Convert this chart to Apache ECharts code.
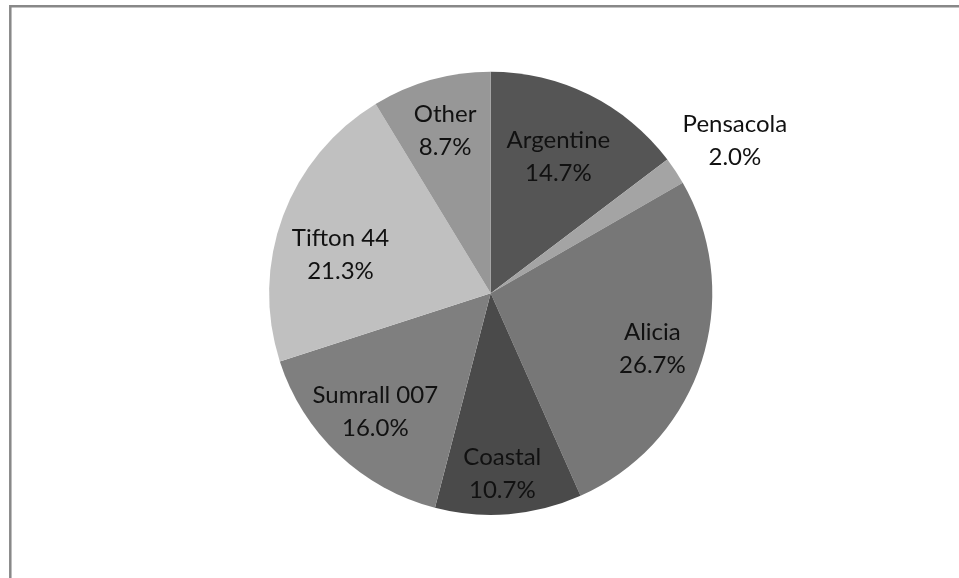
<!DOCTYPE html>
<html>
<head>
<meta charset="utf-8">
<title>Turfgrass variety share</title>
<script src="https://cdn.jsdelivr.net/npm/echarts@6/dist/echarts.min.js"></script>
<style>
  html, body { margin: 0; padding: 0; background: #ffffff; }
  #chart { width: 959px; height: 578px; }
</style>
</head>
<body>
<div id="chart"></div>
<script>
// Variety names and their share of the total (percent)
const categories = ['Argentine', 'Pensacola', 'Alicia', 'Coastal', 'Sumrall 007', 'Tifton 44', 'Other'];
const shares = [14.7, 2.0, 26.7, 10.7, 16.0, 21.3, 8.7];

// Grey fill of each slice, in category order
const sliceColors = ['#555555', '#a4a4a4', '#777777', '#4a4a4a', '#7f7f7f', '#c0c0c0', '#979797'];

// Label placement per slice: distance from centre as a fraction of the radius,
// plus a small angular nudge (degrees) away from the slice's mid-angle
const labelRadius = [0.686, 1.30, 0.772, 0.817, 0.745, 0.70, 0.763];
const labelNudge  = [0, 1.5, 1, 1, 1, -6, 0];

const CX = 490.7, CY = 293.3, R = 221.6;

const total = shares.reduce((a, b) => a + b, 0);
const midAngles = [];
let acc = 0;
shares.forEach(v => {
  midAngles.push((acc + v / 2) / total * 360);
  acc += v;
});

const chart = echarts.init(document.getElementById('chart'), null, { renderer: 'canvas' });

chart.setOption({
  backgroundColor: '#ffffff',
  animation: false,
  graphic: [{
    type: 'rect',
    silent: true,
    shape: { x: 10.3, y: 6.2, width: 2000, height: 2000 },
    style: { fill: 'none', stroke: '#888888', lineWidth: 2.5 }
  }],
  series: [{
    type: 'pie',
    center: [CX, CY],
    radius: [0, R],
    startAngle: 90,
    clockwise: true,
    avoidLabelOverlap: false,
    itemStyle: { borderWidth: 0 },
    label: {
      show: true,
      position: 'inside',
      fontFamily: 'Lato',
      fontSize: 24,
      lineHeight: 33,
      color: '#111111',
      align: 'center',
      verticalAlign: 'middle',
      formatter: p => p.name + '\n' + p.value.toFixed(1) + '%'
    },
    labelLine: { show: false },
    labelLayout: params => {
      const i = params.dataIndex;
      const a = (midAngles[i] + labelNudge[i]) * Math.PI / 180;
      const d = labelRadius[i] * R;
      return {
        x: CX + d * Math.sin(a),
        y: CY - d * Math.cos(a),
        align: 'center',
        verticalAlign: 'middle'
      };
    },
    data: categories.map((name, i) => ({
      name: name,
      value: shares[i],
      itemStyle: { color: sliceColors[i] }
    }))
  }]
});
</script>
</body>
</html>
